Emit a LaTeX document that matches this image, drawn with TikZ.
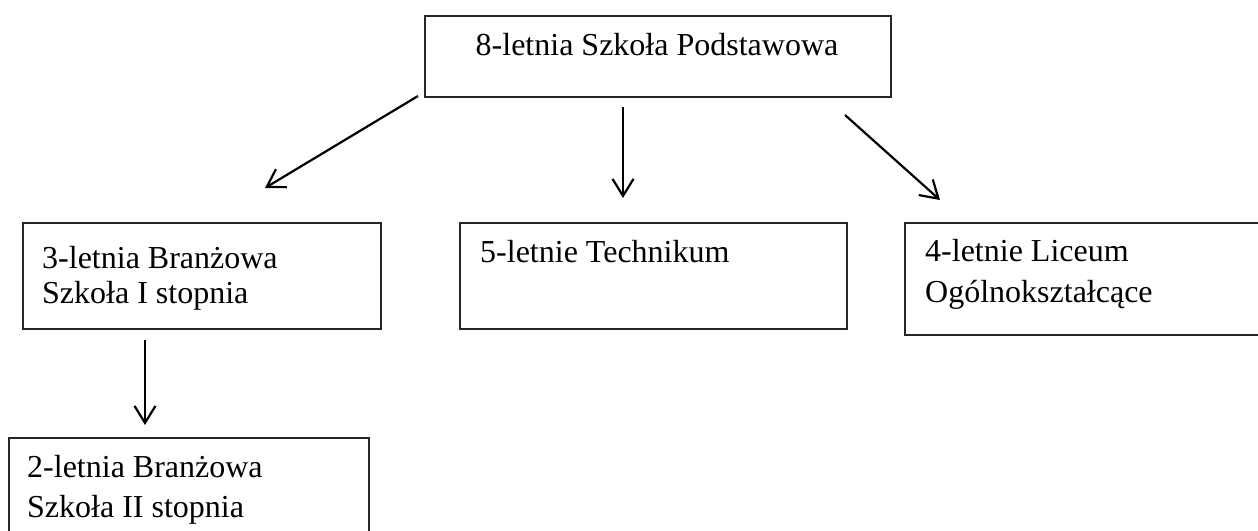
\documentclass[tikz,border=0pt]{standalone}
\usepackage{fontspec}
\setmainfont{Liberation Serif}
\usetikzlibrary{arrows.meta}
\begin{document}
\begin{tikzpicture}[x=1pt,y=-1pt,
  box/.style={draw=black!85, line width=1.6pt, rectangle, anchor=north west, inner sep=0pt},
  lbl/.style={inner sep=0pt, font=\fontsize{32}{35}\selectfont, align=left, anchor=base west},
  conn/.style={line width=2.2pt, -{Straight Barb[length=17pt,width=21pt,line width=2.2pt]}}]
\useasboundingbox (0,0) rectangle (1258,530);
% boxes
\node[box, minimum width=466pt, minimum height=81pt] (top) at (424,15) {};
\node[box, minimum width=358pt, minimum height=106pt] (b3) at (22,222) {};
\node[box, minimum width=387pt, minimum height=106pt] (tech) at (459,222) {};
\node[box, minimum width=358pt, minimum height=112pt] (lic) at (904,222) {};
\node[box, minimum width=360pt, minimum height=103pt] (b2) at (8,437) {};
% texts (base anchor = baseline of last line)
\node[lbl, anchor=base] (ttop) at (657,55) {8-letnia Szkoła Podstawowa};
\node[lbl] (tb3) at (42,303) {3-letnia Branżowa\\Szkoła I stopnia};
\node[lbl] (ttech) at (480,262) {5-letnie Technikum};
\node[lbl, font=\fontsize{32}{41}\selectfont] (tlic) at (925,302) {4-letnie Liceum\\Ogólnokształcące};
\node[lbl, font=\fontsize{32}{40}\selectfont] (tb2) at (27,517) {2-letnia Branżowa\\Szkoła II stopnia};
% arrow ends
\coordinate (a1s) at (418,96);  \coordinate (a1e) at (265,188);
\coordinate (a2s) at (623,107); \coordinate (a2e) at (623,198);
\coordinate (a3s) at (845,115); \coordinate (a3e) at (940,200);
\coordinate (a4s) at (145,340); \coordinate (a4e) at (145,425);
\draw[conn] (a1s) -- (a1e);
\draw[conn] (a2s) -- (a2e);
\draw[conn] (a3s) -- (a3e);
\draw[conn] (a4s) -- (a4e);
\end{tikzpicture}
\end{document}
